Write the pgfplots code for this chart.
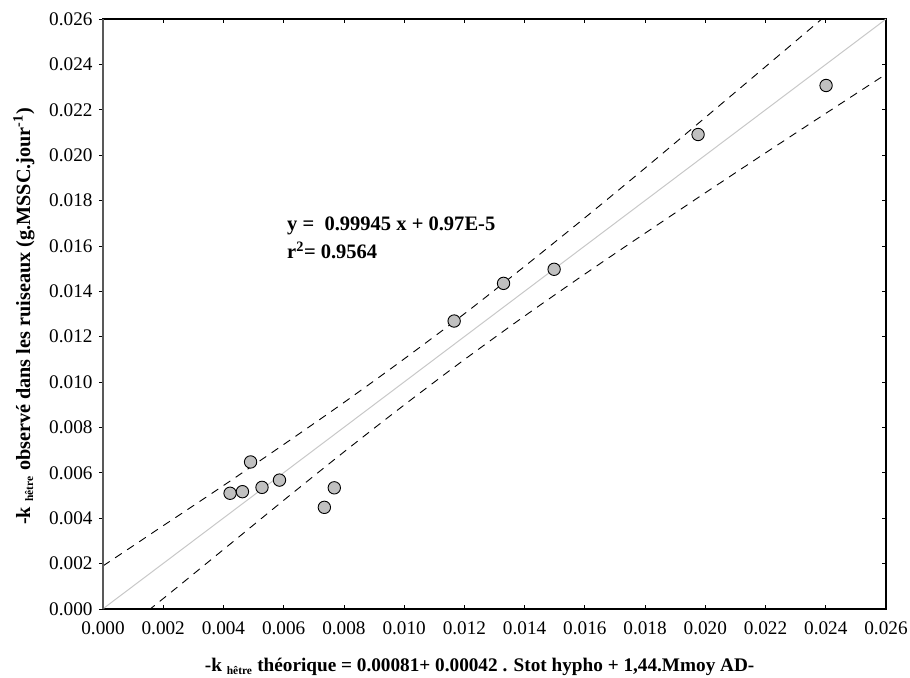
\documentclass[border=0pt]{standalone}
\usepackage{fontspec}
\setmainfont{Liberation Serif}
\usepackage{pgfplots}
\pgfplotsset{compat=1.18}
\definecolor{ptfill}{RGB}{192,192,192}
\definecolor{regline}{RGB}{200,200,200}
\begin{document}
\begin{tikzpicture}
\path[use as bounding box] (-103bp,-69bp) rectangle (807bp,609bp);
\begin{axis}[
  scale only axis, width=783bp, height=590bp,
  xmin=0, xmax=0.026, ymin=0, ymax=0.026,
  xtick={0,0.002,0.004,0.006,0.008,0.010,0.012,0.014,0.016,0.018,0.020,0.022,0.024,0.026},
  ytick={0,0.002,0.004,0.006,0.008,0.010,0.012,0.014,0.016,0.018,0.020,0.022,0.024,0.026},
  scaled ticks=false,
  /pgf/number format/.cd, fixed, fixed zerofill, precision=3, assume math mode=true, /pgfplots/.cd,
  tick label style={font=\fontsize{19.3}{21}\selectfont},
  xticklabel style={yshift=-9bp},
  yticklabel style={xshift=-7bp},
  tick align=inside,
  major tick length=4bp,
  xtick pos=both,
  ytick pos=right, yticklabel pos=left,
  extra y ticks={0,0.002,0.004,0.006,0.008,0.010,0.012,0.014,0.016,0.018,0.020,0.022,0.024,0.026},
  extra y tick labels={},
  extra y tick style={ytick pos=left, tick align=outside},
  axis line style={line width=1.2bp},
  tick style={line width=0.8bp, black},
  xlabel={\textbf{-k \textsubscript{\fontsize{11.5}{12}\selectfont hêtre} théorique = 0.00081+ 0.00042 . Stot hypho + 1,44.Mmoy AD-}},
  ylabel={\textbf{-k \textsubscript{\fontsize{11.5}{12}\selectfont hêtre} observé dans les ruiseaux (g.MSSC.jour\textsuperscript{-1})}},
  xlabel style={font=\fontsize{19.3}{21}\selectfont, at={(axis description cs:0.481,0)}, anchor=base, yshift=-62bp},
  ylabel style={font=\fontsize{20.3}{22}\selectfont, at={(axis description cs:-0.0932,0.4958)}, anchor=base},
  clip=true,
]
% regression line
\addplot[regline, line width=1bp] coordinates {(0,0.0000097) (0.026,0.0259954)};
% confidence bands
\addplot[black, line width=0.9bp, dash pattern=on 8bp off 6.5bp, smooth] table {
x y
0 0.00190
0.002 0.00367
0.004 0.00544
0.006 0.00725
0.008 0.00910
0.010 0.01102
0.012 0.01301
0.014 0.01510
0.016 0.01724
0.018 0.01943
0.020 0.02166
0.022 0.02390
0.024 0.02615
0.026 0.02842
};
\addplot[black, line width=0.9bp, dash pattern=on 8bp off 6.5bp, smooth] table {
x y
0 -0.00165
0.002 0.00046
0.004 0.00262
0.006 0.00479
0.008 0.00692
0.010 0.00899
0.012 0.01099
0.014 0.01291
0.016 0.01476
0.018 0.01656
0.020 0.01834
0.022 0.02010
0.024 0.02184
0.026 0.02357
};
% data points
\addplot[only marks, mark=*, mark size=6.2bp, mark options={fill=ptfill, draw=black, line width=0.9bp}] table {
x y
0.00422 0.00510
0.00463 0.00517
0.00490 0.00648
0.00528 0.00536
0.00586 0.00568
0.00735 0.00448
0.00768 0.00534
0.01166 0.01269
0.01330 0.01435
0.01498 0.01497
0.01976 0.02091
0.02401 0.02307
};
\node[anchor=west, font=\fontsize{20.6}{22}\selectfont\bfseries] at (axis cs:0.0060,0.0169) {y =\ \ 0.99945 x + 0.97E-5};
\node[anchor=west, font=\fontsize{20.6}{22}\selectfont\bfseries] at (axis cs:0.0060,0.0158) {r\textsuperscript{2}= 0.9564};
\end{axis}
\draw[gray!70!black, line width=2bp] (0,0) -- (0,590bp);
\end{tikzpicture}
\end{document}
